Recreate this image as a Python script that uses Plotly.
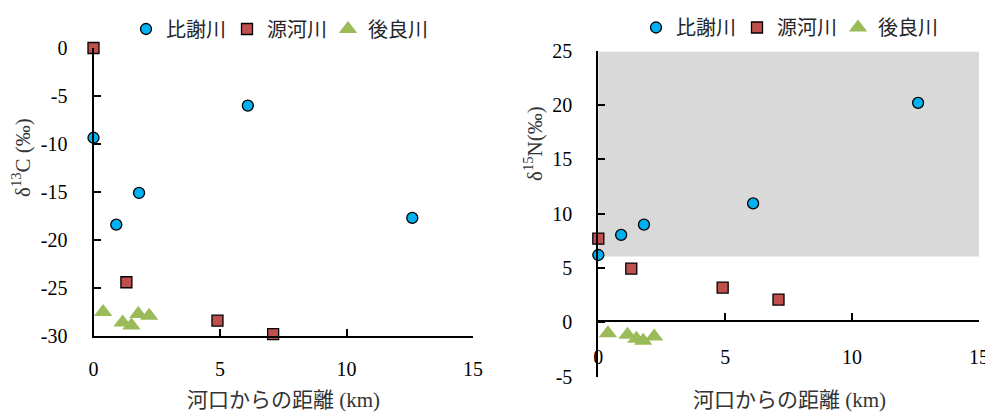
import plotly.graph_objects as go

# ---- data ----
rivers = ["比謝川", "源河川", "後良川"]

hija_km = [0, 0.9, 1.8, 6.1, 12.6]
hija_d13C = [-9.35, -18.4, -15.1, -6.0, -17.7]
hija_d15N = [6.2, 8.05, 9.0, 10.95, 20.2]

genka_km = [0, 1.3, 4.9, 7.1]
genka_d13C = [0.0, -24.4, -28.4, -29.8]
genka_d15N = [7.7, 4.95, 3.2, 2.1]

gora_km = [0.38, 1.15, 1.5, 1.77, 2.2]
gora_d13C = [-27.5, -28.6, -28.9, -27.7, -27.9]
gora_d15N = [-1.0, -1.15, -1.5, -1.7, -1.3]

band_N = [6.05, 24.9]      # shaded range on the δ15N panel
band_km = [0, 15]

x_ticks = [0, 5, 10, 15]
x_labels = ["0", "5", "10", "15"]
yC_ticks = [0, -5, -10, -15, -20, -25, -30]
yC_labels = ["0", "-5", "-10", "-15", "-20", "-25", "-30"]
yN_ticks = [-5, 0, 5, 10, 15, 20, 25]
yN_labels = ["-5", "0", "5", "10", "15", "20", "25"]

# ---- styles ----
# the page body has an 8px margin, so the figure is laid out in a frame shifted by 8px
OFF = 8
W, H = 993 - OFF, 417 - OFF
NUM_FONT = "Liberation Serif, Times New Roman, serif"
CJK_FONT = "Liberation Serif, Noto Sans CJK JP, serif"
styles = [
    dict(symbol="circle", size=11, color="#00B0F0", line=dict(color="black", width=1.3)),
    dict(symbol="square", size=11, color="#C0504D", line=dict(color="black", width=1.3)),
    dict(symbol="triangle-up", size=16, color="#9BBB59", line=dict(width=0)),
]

fig = go.Figure()

left = [(hija_km, hija_d13C), (genka_km, genka_d13C), (gora_km, gora_d13C)]
right = [(hija_km, hija_d15N), (genka_km, genka_d15N), (gora_km, gora_d15N)]

for name, (xs, ys), st in zip(rivers, left, styles):
    fig.add_trace(go.Scatter(x=xs, y=ys, mode="markers", name=name, marker=st,
                             xaxis="x", yaxis="y", cliponaxis=False, legend="legend"))
for name, (xs, ys), st in zip(rivers, right, styles):
    fig.add_trace(go.Scatter(x=xs, y=ys, mode="markers", name=name, marker=st,
                             xaxis="x2", yaxis="y2", cliponaxis=False, legend="legend2"))

fig.add_shape(type="rect", xref="x2", yref="y2", x0=band_km[0], x1=band_km[1],
              y0=band_N[0], y1=band_N[1], fillcolor="#D9D9D9", line=dict(width=0),
              layer="below")

def px(x):
    return (x - OFF) / W

def py(y):
    return (H - (y - OFF)) / H

axis_common = dict(showgrid=False, zeroline=False, showline=True, linecolor="#000000",
                   linewidth=2, ticks="inside", ticklen=7, tickwidth=2, tickcolor="#000000",
                   automargin=False,
                   tickfont=dict(family=NUM_FONT, size=20, color="#000000"))

leg_font = dict(family="Noto Sans CJK JP", size=20, color="#262626")

fig.update_layout(
    width=W, height=H, margin=dict(l=0, r=0, t=0, b=0, autoexpand=False),
    paper_bgcolor="white", plot_bgcolor="rgba(0,0,0,0)",
    showlegend=True,
    xaxis=dict(domain=[px(93.5), px(473)], range=[0, 15], tickvals=x_ticks, ticktext=x_labels,
               anchor="y", ticklabelstandoff=14, **axis_common),
    yaxis=dict(domain=[py(336), py(48)], range=[-30, 0], tickvals=yC_ticks, ticktext=yC_labels,
               anchor="x", ticklabelstandoff=20, **axis_common),
    xaxis2=dict(domain=[px(598.3), px(979)], range=[0, 15], tickvals=x_ticks, ticktext=x_labels,
                anchor="free", position=py(321), ticklabelstandoff=18, **axis_common),
    yaxis2=dict(domain=[py(376.7), py(50.7)], range=[-5, 25], tickvals=yN_ticks, ticktext=yN_labels,
                anchor="x2", ticklabelstandoff=20, **axis_common),
    legend=dict(orientation="h", x=px(126), y=py(29), xanchor="left", yanchor="middle",
                font=leg_font, itemwidth=30, entrywidth=56, entrywidthmode="pixels",
                bgcolor="rgba(0,0,0,0)"),
    legend2=dict(orientation="h", x=px(636), y=1.0, xanchor="left", yanchor="top",
                 font=leg_font, itemwidth=30, entrywidth=56, entrywidthmode="pixels",
                 bgcolor="rgba(0,0,0,0)"),
)

ann_font = dict(family=CJK_FONT, size=21, color="#333333")
ann_common = dict(xref="paper", yref="paper", xanchor="center", yanchor="middle",
                  showarrow=False, font=ann_font)
fig.add_annotation(text="δ<sup>13</sup>C (‰)", x=px(21), y=py(158), textangle=-90, **ann_common)
fig.add_annotation(text="δ<sup>15</sup>N(‰)", x=px(533), y=py(144), textangle=-90, **ann_common)
fig.add_annotation(text="河口からの距離 (km)", x=px(283), y=py(400), **ann_common)
fig.add_annotation(text="河口からの距離 (km)", x=px(789), y=py(400), **ann_common)

fig.write_html("out.html")
